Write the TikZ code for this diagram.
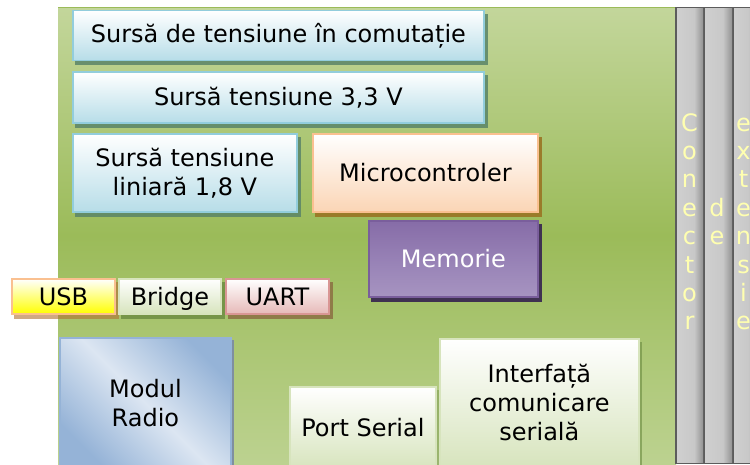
\documentclass[tikz,border=0pt]{standalone}
\usepackage{fontspec}
\setmainfont{DejaVu Sans}
\usetikzlibrary{positioning}
\definecolor{boardTop}{HTML}{C3D69B}
\definecolor{boardMid}{HTML}{9BBB59}
\definecolor{boardBot}{HTML}{BCD290}
\definecolor{blueBd}{HTML}{92CDDC}
\definecolor{blueBot}{HTML}{B7DDE8}
\definecolor{blueSh}{HTML}{5A8468}
\definecolor{orBd}{HTML}{FAC090}
\definecolor{orBot}{HTML}{FBD5B5}
\definecolor{orSh}{HTML}{9A7424}
\definecolor{memBd}{HTML}{7A5E9C}
\definecolor{memA}{HTML}{B6A6CB}
\definecolor{memB}{HTML}{9A85B8}
\definecolor{memC}{HTML}{8064A2}
\definecolor{memD}{HTML}{A897C4}
\definecolor{memSh}{HTML}{3F3151}
\definecolor{usbBot}{HTML}{FFFF00}
\definecolor{usbSh}{HTML}{B07030}
\definecolor{grBd}{HTML}{D7E4BD}
\definecolor{grSh}{HTML}{6A8A40}
\definecolor{uaBd}{HTML}{D99694}
\definecolor{uaBot}{HTML}{E6B9B8}
\definecolor{uaSh}{HTML}{8A6A40}
\definecolor{radA}{HTML}{95B3D7}
\definecolor{radB}{HTML}{DCE6F2}
\definecolor{radSh}{HTML}{7F8F9F}
\definecolor{connTxt}{HTML}{FFFFB0}
\definecolor{gA}{HTML}{7A7A7A}
\definecolor{gB}{HTML}{D2D2D2}
\definecolor{gC}{HTML}{C8C8C8}
\definecolor{gD}{HTML}{5E5E5E}
\definecolor{gBack}{HTML}{5C5C5C}
\pgfdeclareverticalshading{memshade}{100bp}{color(0bp)=(memA); color(45bp)=(memB); color(85bp)=(memC); color(100bp)=(memD)}
\pgfdeclarehorizontalshading{colshade}{100bp}{color(0bp)=(gA); color(12bp)=(gB); color(58bp)=(gC); color(92bp)=(gD); color(100bp)=(gD)}
\pgfdeclarelayer{boardlayer}
\pgfdeclarelayer{shadowlayer}
\pgfsetlayers{boardlayer,shadowlayer,main}
\tikzset{
  box/.style={rectangle, inner sep=0pt, anchor=north west, align=center,
    line width=1.8pt, text=black, font=\fontsize{24}{29}\selectfont},
  bluebox/.style={box, draw=blueBd, top color=white, bottom color=blueBot},
  orbox/.style={box, draw=orBd, top color=white, bottom color=orBot},
  membox/.style={box, draw=memBd, shading=memshade, text=white},
  usbbox/.style={box, draw=orBd, top color=white, bottom color=usbBot},
  grbox/.style={box, draw=grBd, top color=white, bottom color=grBd},
  uabox/.style={box, draw=uaBd, top color=white, bottom color=uaBot},
  radbox/.style={box, draw=radA, top color=radA, bottom color=radA, middle color=radB, shading angle=-45},
  oneline/.style={text height=21pt, text depth=2pt},
  conn letter/.style={anchor=base, inner sep=0pt, text=connTxt, font=\fontsize{24}{29}\selectfont},
  column/.style={shading=colshade},
}
\newcommand{\boxshadow}[4]{%
  \begin{pgfonlayer}{shadowlayer}
    \fill[#2, opacity=#3] ([xshift=#4pt,yshift=-4pt]#1.south west) rectangle ([xshift=#4pt,yshift=-4pt]#1.north east);
  \end{pgfonlayer}}
\begin{document}
\begin{tikzpicture}[x=1pt,y=-1pt]
\useasboundingbox (0,0) rectangle (750,464);
\begin{pgfonlayer}{boardlayer}
  \shade[top color=boardTop, bottom color=boardBot, middle color=boardMid] (58,7) rectangle (676,464);
  \draw[boardMid, line width=1pt] (58,7.5) -- (676,7.5);
  \fill[gBack] (675,7) rectangle (750,464);
  \shade[column] (677,8) rectangle (703,462);
  \shade[column] (705,8) rectangle (732,462);
  \shade[column] (734,8) rectangle (756,462);
\end{pgfonlayer}

\node[bluebox, minimum width=411, minimum height=50] (s1) at (72,9.5) {Sursă de tensiune în comutație};
\node[bluebox, minimum width=411, minimum height=51] (s2) at (72,71) {Sursă tensiune 3,3 V};
\node[bluebox, minimum width=224, minimum height=78] (s3) at (72,133) {Sursă tensiune\\liniară 1,8 V};
\node[orbox, minimum width=225, minimum height=78] (mc) at (312,133) {Microcontroler};
\node[membox, minimum width=169, minimum height=76] (mem) at (368,220) {Memorie};
\node[usbbox, oneline, minimum width=103, minimum height=35] (usb) at (11,278) {USB};
\node[grbox, oneline, minimum width=102, minimum height=35] (br) at (118,278) {Bridge};
\node[uabox, oneline, minimum width=103, minimum height=35] (uart) at (225,278) {UART};
\node[radbox, minimum width=171, minimum height=130] (rad) at (59,337) {Modul\\Radio};
\node[grbox, minimum width=146, minimum height=82] (port) at (289,386) {Port Serial};
\node[grbox, minimum width=199, minimum height=128] (intf) at (439,338) {Interfață\\comunicare\\serială};

\boxshadow{s1}{blueSh}{0.85}{3}
\boxshadow{s2}{blueSh}{0.85}{3}
\boxshadow{s3}{blueSh}{0.85}{3}
\boxshadow{mc}{orSh}{0.9}{3}
\boxshadow{mem}{memSh}{1}{3}
\boxshadow{usb}{usbSh}{0.6}{3}
\boxshadow{br}{grSh}{0.8}{3}
\boxshadow{uart}{uaSh}{0.8}{3}
\begin{pgfonlayer}{shadowlayer}
  \fill[radSh] ([xshift=0pt]rad.south east) rectangle ([xshift=2pt,yshift=-3pt]rad.north east);
  \fill[grSh, opacity=0.6] ([xshift=0pt]intf.south east) rectangle ([xshift=2.5pt,yshift=-4pt]intf.north east);
  \fill[grSh, opacity=0.4] ([xshift=0pt]port.south east) rectangle ([xshift=2pt,yshift=-4pt]port.north east);
\end{pgfonlayer}

\foreach \ch [count=\i] in {C,o,n,e,c,t,o,r}
  \node[conn letter] (ca\i) at (689.5,{131+(\i-1)*28.4}) {\ch};
\foreach \ch [count=\i] in {d,e}
  \node[conn letter] (cb\i) at (717,{216.2+(\i-1)*28.4}) {\ch};
\foreach \ch [count=\i] in {e,x,t,e,n,s,i,e}
  \node[conn letter] (cc\i) at (743.5,{131+(\i-1)*28.4}) {\ch};
\end{tikzpicture}
\end{document}
